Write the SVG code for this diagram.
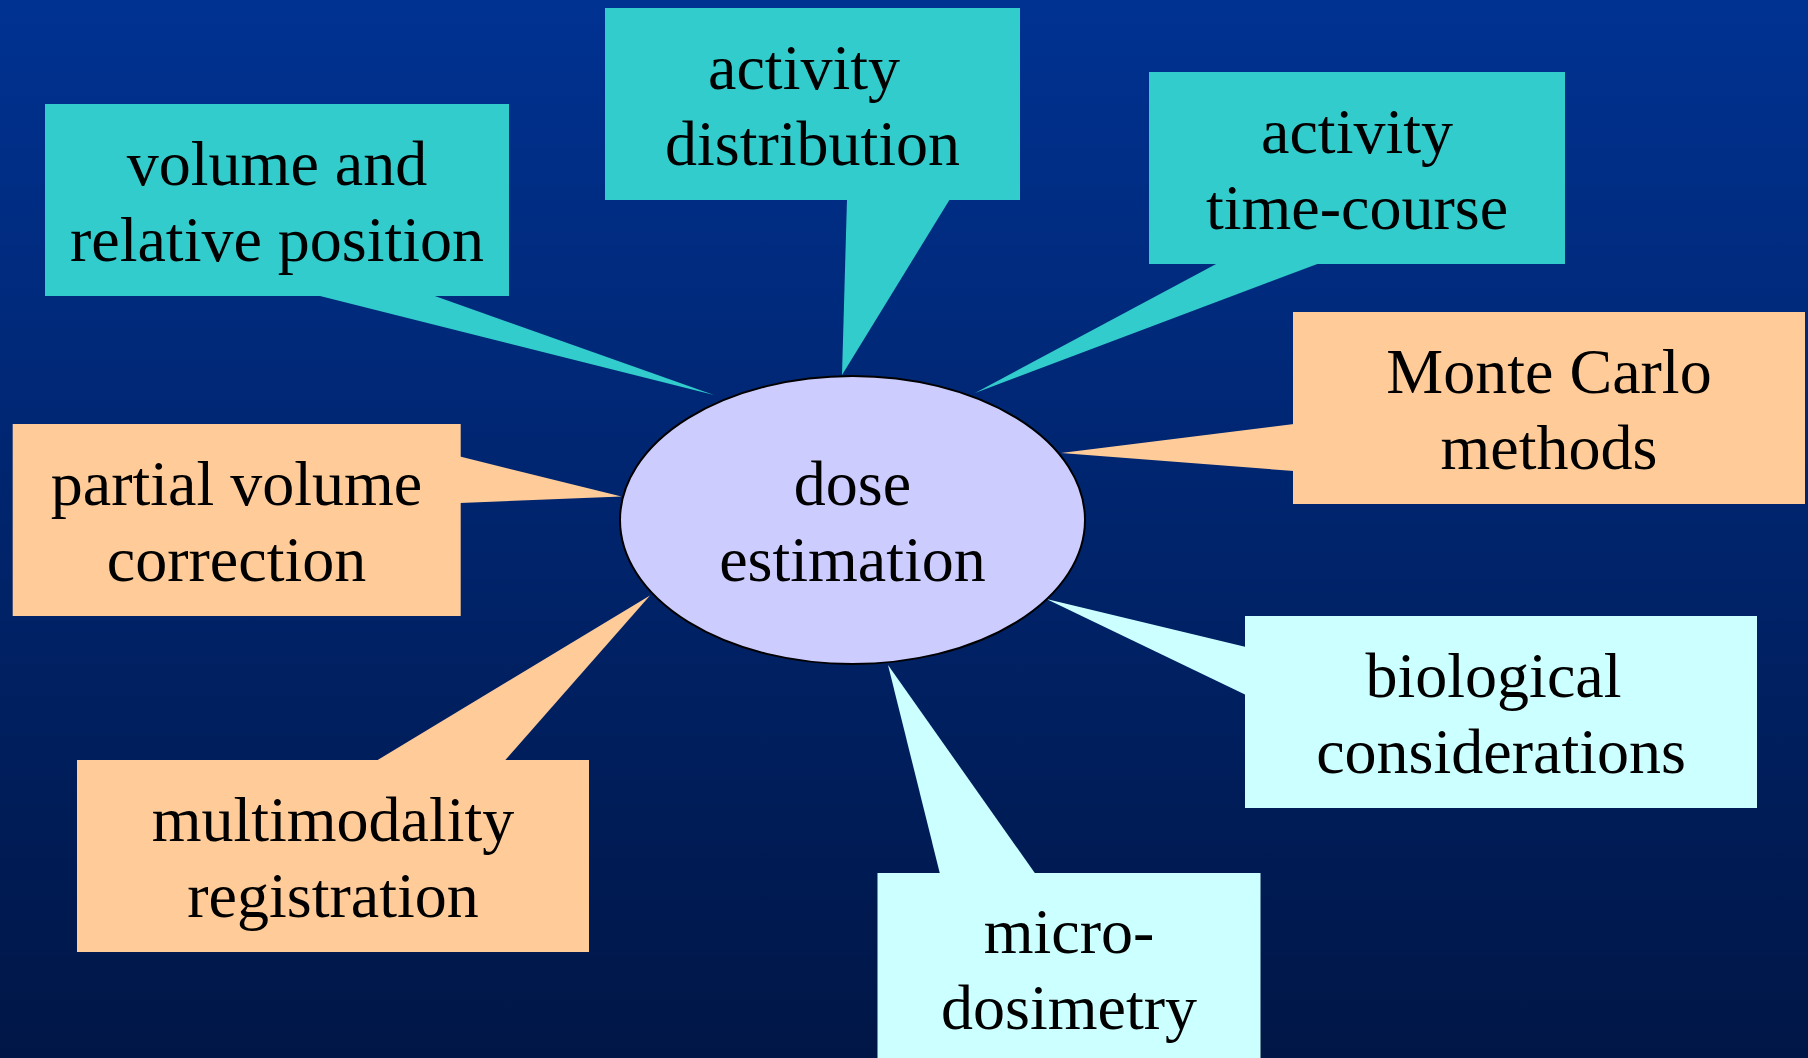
<svg xmlns="http://www.w3.org/2000/svg" width="1808" height="1058" viewBox="0 0 1808 1058">
<defs>
<linearGradient id="bg" x1="0" y1="0" x2="0" y2="1">
<stop offset="0" stop-color="#003292"/>
<stop offset="0.5" stop-color="#00246C"/>
<stop offset="1" stop-color="#001646"/>
</linearGradient>
</defs>
<style>
.t{font-family:"Liberation Serif","Times New Roman",serif;font-size:64px;fill:#000;text-anchor:middle}
.cy{fill:#33CCCC}
.or{fill:#FFCC99}
.lc{fill:#CCFFFF}
</style>
<rect width="1808" height="1058" fill="url(#bg)"/>
<g id="connectors">
<polygon class="cy" points="316,295 432,295 714,395"/>
<polygon class="cy" points="847,199 950,199 842,375"/>
<polygon class="cy" points="1218,263 1320,263 975,393"/>
<polygon class="or" points="1294,424 1294,471 1061,453"/>
<polygon class="or" points="460,456.5 460,503 621.5,496.6"/>
<polygon class="or" points="376,761 504.5,761 650,595.5"/>
<polygon class="lc" points="1246,647 1246,695 1046.4,599"/>
<polygon class="lc" points="940,874 1035.5,874 888,665"/>
</g>
<g id="volume">
<rect class="cy" x="45" y="104" width="464" height="192"/>
<text class="t" x="277" y="185">volume and</text>
<text class="t" x="277" y="261">relative position</text>
</g>
<g id="activity-distribution">
<rect class="cy" x="605" y="8" width="415" height="192"/>
<text class="t" x="804" y="89">activity</text>
<text class="t" x="812.5" y="165">distribution</text>
</g>
<g id="activity-time-course">
<rect class="cy" x="1149" y="72" width="416" height="192"/>
<text class="t" x="1357" y="153">activity</text>
<text class="t" x="1357" y="229">time-course</text>
</g>
<g id="monte-carlo">
<rect class="or" x="1293" y="312" width="512" height="192"/>
<text class="t" x="1549" y="393">Monte Carlo</text>
<text class="t" x="1549" y="469">methods</text>
</g>
<g id="partial-volume">
<rect class="or" x="12.7" y="424" width="448" height="192"/>
<text class="t" x="236.5" y="505">partial volume</text>
<text class="t" x="236.5" y="581">correction</text>
</g>
<g id="multimodality">
<rect class="or" x="77" y="760" width="512" height="192"/>
<text class="t" x="333" y="841">multimodality</text>
<text class="t" x="333" y="917">registration</text>
</g>
<g id="biological">
<rect class="lc" x="1245" y="616" width="512" height="192"/>
<text class="t" x="1493.5" y="697">biological</text>
<text class="t" x="1501" y="773">considerations</text>
</g>
<g id="microdosimetry">
<rect class="lc" x="877.5" y="873" width="383" height="192"/>
<text class="t" x="1069" y="953">micro-</text>
<text class="t" x="1069" y="1029">dosimetry</text>
</g>
<g id="dose-estimation">
<ellipse cx="852.5" cy="520" rx="232.5" ry="144" fill="#CCCCFF" stroke="#000" stroke-width="2"/>
<text class="t" x="852.5" y="505">dose</text>
<text class="t" x="852.5" y="581">estimation</text>
</g>
</svg>
